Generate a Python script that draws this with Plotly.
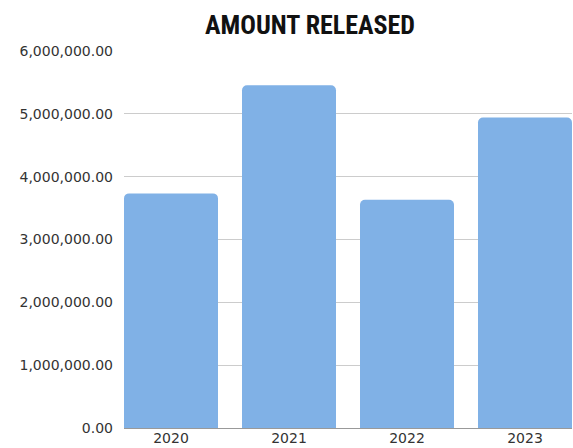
import plotly.graph_objects as go

years = ["2020", "2021", "2022", "2023"]
amount_released = [3734000, 5455000, 3633000, 4942000]
y_ticks = [0, 1000000, 2000000, 3000000, 4000000, 5000000, 6000000]

fig = go.Figure(go.Bar(
    x=years,
    y=amount_released,
    marker=dict(color="#80b1e6", line=dict(width=0)),
))

fig.update_layout(
    width=573, height=448,
    margin=dict(l=124, r=1, t=51, b=20),
    paper_bgcolor="white", plot_bgcolor="white",
    bargap=24/118,
    barcornerradius=5,
    showlegend=False,
    title=dict(
        text="<b>AMOUNT RELEASED</b>",
        font=dict(family="Roboto Condensed", size=26, color="#111111"),
        x=310/573, xref="container", xanchor="center",
        y=1 - 25/448, yref="container", yanchor="middle",
    ),
    font=dict(family="DejaVu Sans, sans-serif", size=14, color="#333333"),
)

fig.update_xaxes(
    range=[-0.5 + 12/118, 3.5 - 12/118],
    showgrid=False, showline=False, ticks="",
    tickfont=dict(family="DejaVu Sans", size=14, color="#333333"),
)
fig.update_yaxes(
    range=[0, 6000000],
    tickvals=y_ticks,
    tickformat=",.2f",
    showgrid=True, gridcolor="#cccccc", gridwidth=1,
    zeroline=True, zerolinecolor="#999999", zerolinewidth=1,
    showline=False, ticks="",
    ticklabelstandoff=10,
    tickfont=dict(family="DejaVu Sans", size=14, color="#333333"),
)

fig.write_html(
    "out.html",
    config={"displayModeBar": False},
    post_script="document.body.style.margin='0';document.body.style.overflow='hidden';",
)
